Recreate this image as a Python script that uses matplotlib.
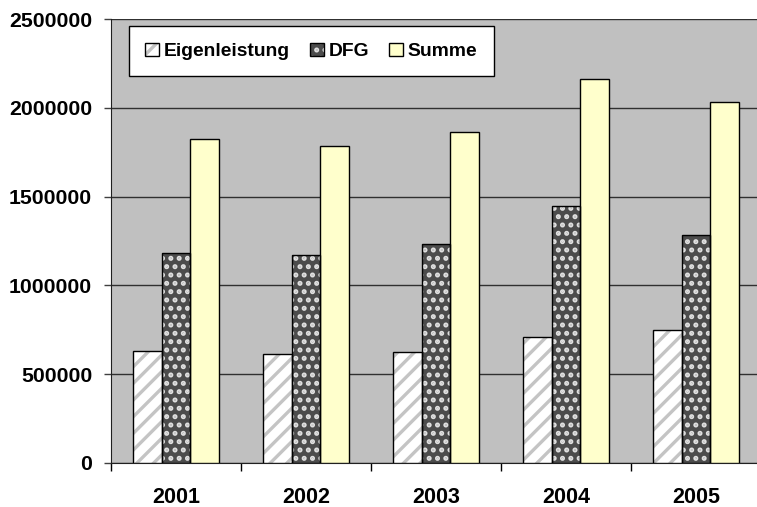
import matplotlib
matplotlib.use("Agg")
import matplotlib.pyplot as plt
import numpy as np
from matplotlib.legend_handler import HandlerTuple

# data
years = ["2001", "2002", "2003", "2004", "2005"]
eigen = [632000, 612000, 627000, 708000, 747000]
dfg = [1184000, 1169000, 1231000, 1449000, 1282000]
summe = [1822000, 1785000, 1862000, 2160000, 2034000]
series_names = ["Eigenleistung", "DFG", "Summe"]

plt.rcParams['font.family'] = ['Liberation Sans', 'DejaVu Sans']
plt.rcParams['font.weight'] = 'bold'
plt.rcParams['hatch.linewidth'] = 2.4

fig = plt.figure(figsize=(7.57, 5.07), dpi=100)
ax = fig.add_axes([111/757, 44/507, 650/757, 444/507])
ax.set_facecolor("#c0c0c0")

x = np.arange(len(years))
w = 0.223

# Eigenleistung: white with light gray stripes
b1 = ax.bar(x - w, eigen, w, color="white", edgecolor="#c4c4c4", hatch="//", linewidth=0, zorder=3)
o1 = ax.bar(x - w, eigen, w, fill=False, edgecolor="black", linewidth=1, zorder=4)
# DFG: dark gray with white dots
b2 = ax.bar(x, dfg, w, color="#4c4c4c", edgecolor="#e0e0e0", hatch="..", linewidth=0, zorder=3)
o2 = ax.bar(x, dfg, w, fill=False, edgecolor="black", linewidth=1, zorder=4)
# Summe: pale yellow
b3 = ax.bar(x + w, summe, w, color="#ffffcc", edgecolor="black", linewidth=1, zorder=3)

ax.set_ylim(0, 2500000)
ax.set_xlim(-0.5, len(years) - 0.5)
ax.set_yticks(np.arange(0, 2500001, 500000))
ax.set_yticklabels([str(v) for v in range(0, 2500001, 500000)], fontsize=15.3, fontweight='bold')
ax.yaxis.grid(True, color="#303030", linewidth=1)
ax.set_axisbelow(True)

ax.set_xticks(x)
ax.set_xticklabels(years, fontsize=15.5, fontweight='bold')
ax.set_xticks(np.arange(-0.5, len(years)), minor=True)
ax.tick_params(axis='x', which='major', length=0, pad=17)
ax.tick_params(axis='x', which='minor', length=6, width=1, color="black", direction='out')
ax.tick_params(axis='y', length=5, width=1, color="#404040", pad=8.5)

for side in ['top', 'right']:
    ax.spines[side].set_visible(False)
ax.spines['left'].set_color("#202020")
ax.spines['bottom'].set_color("#202020")

handles = [(b1[0], o1[0]), (b2[0], o2[0]), b3[0]]
leg = ax.legend(handles, series_names, handler_map={tuple: HandlerTuple(ndivide=1)},
                loc='upper left', bbox_to_anchor=(0.0277, 0.984), borderaxespad=0,
                ncol=3, fontsize=13.9, handlelength=0.7, handleheight=0.7,
                handletextpad=0.25, columnspacing=1.05, borderpad=0.85,
                fancybox=False, framealpha=1, edgecolor="black")
leg.get_frame().set_linewidth(1)
for t in leg.get_texts():
    t.set_fontweight('bold')

fig.savefig("out.png", dpi=100)
